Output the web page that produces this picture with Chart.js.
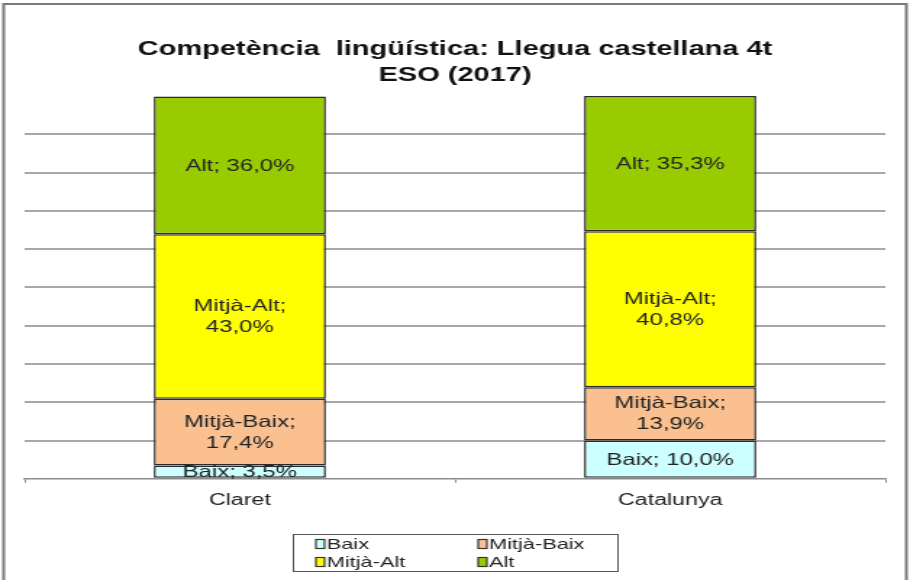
<!DOCTYPE html>
<html>
<head>
<meta charset="utf-8">
<script src="https://cdn.jsdelivr.net/npm/chart.js@4"></script>
<style>
  body { margin: 0; background: #fff; overflow: hidden; }
  /* the original picture is stretched sideways, so draw narrow and widen */
  #wrap { width: 628px; height: 580px; transform: scaleX(1.449); transform-origin: 0 0; }
</style>
</head>
<body>
<div id="wrap"><canvas id="chart" width="628" height="580"></canvas></div>
<script>
const categories = ["Claret", "Catalunya"];
const seriesNames = ["Baix", "Mitjà-Baix", "Mitjà-Alt", "Alt"];
const baix = [3.5, 10.0];
const mitjaBaix = [17.4, 13.9];
const mitjaAlt = [43.0, 40.8];
const alt = [36.0, 35.3];
const colors = ["#ccffff", "#fac090", "#ffff00", "#99cc00"];
const titleLines = ["Competència  lingüística: Llegua castellana 4t", "ESO (2017)"];

const fmt = v => v.toFixed(1).replace(".", ",") + "%";

const frame = {
    id: "frame",
    beforeDraw(chart) {
        const c = chart.ctx;
        c.save();
        c.fillStyle = "#fff";
        c.fillRect(0, 0, chart.width, chart.height);
        c.strokeStyle = "#7a7a7a";
        c.lineWidth = 2;
        c.strokeRect(2.5, 4, 623, 590);
        c.restore();
    }
};

const segLabels = {
    id: "segLabels",
    afterDatasetsDraw(chart) {
        const c = chart.ctx;
        c.save();
        c.font = "16.5px 'Liberation Sans', Arial, sans-serif";
        c.fillStyle = "#222";
        c.textAlign = "center";
        c.textBaseline = "middle";
        chart.data.datasets.forEach((ds, i) => {
            chart.getDatasetMeta(i).data.forEach((bar, j) => {
                const full = ds.label + "; " + fmt(ds.data[j]);
                const y = (bar.y + bar.base) / 2;
                if (c.measureText(full).width > bar.width * 0.8) {
                    c.fillText(ds.label + ";", bar.x, y - 10);
                    c.fillText(fmt(ds.data[j]), bar.x, y + 11);
                } else {
                    c.fillText(full, bar.x, y + 1);
                }
            });
        });
        c.restore();
    }
};

const boxLegend = {
    id: "boxLegend",
    afterDraw(chart) {
        const c = chart.ctx;
        c.save();
        c.strokeStyle = "#555";
        c.lineWidth = 1;
        c.strokeRect(202.5, 534.5, 224, 37);
        c.font = "15px 'Liberation Sans', Arial, sans-serif";
        c.textBaseline = "middle";
        const cols = [218, 330];
        const rows = [544, 562];
        chart.data.datasets.forEach((ds, i) => {
            const x = cols[i % 2];
            const y = rows[Math.floor(i / 2)];
            c.fillStyle = ds.backgroundColor;
            c.fillRect(x, y - 4.5, 6, 9);
            c.strokeStyle = "#333";
            c.lineWidth = 1.2;
            c.strokeRect(x, y - 4.5, 6, 9);
            c.fillStyle = "#222";
            c.fillText(ds.label, x + 7.5, y + 1);
        });
        c.restore();
    }
};

const allData = [baix, mitjaBaix, mitjaAlt, alt];

new Chart(document.getElementById("chart"), {
    type: "bar",
    data: {
        labels: categories,
        datasets: seriesNames.map((name, i) => ({
            label: name,
            data: allData[i],
            backgroundColor: colors[i],
            borderColor: "#2b2b2b",
            borderWidth: 1.5,
            borderSkipped: false,
            categoryPercentage: 1,
            barPercentage: 0.4
        }))
    },
    options: {
        responsive: false,
        animation: false,
        layout: { padding: { left: 17, right: 17, top: 0, bottom: 62 } },
        plugins: {
            legend: { display: false },
            tooltip: { enabled: false },
            title: {
                display: true,
                text: titleLines,
                color: "#111",
                font: { family: "'Liberation Sans', Arial, sans-serif", size: 20, weight: "bold", lineHeight: 1.3 },
                padding: { top: 36, bottom: 8 }
            }
        },
        scales: {
            x: {
                stacked: true,
                border: { color: "#8c8c8c", width: 1.5 },
                grid: { drawOnChartArea: false, drawTicks: true, tickLength: 4, color: "#8c8c8c" },
                ticks: { color: "#222", padding: 8, font: { family: "'Liberation Sans', Arial, sans-serif", size: 16 } }
            },
            y: {
                stacked: true,
                min: 0,
                max: 100,
                border: { display: false },
                ticks: { display: false, stepSize: 10 },
                grid: {
                    drawTicks: false,
                    lineWidth: 2,
                    color: ctx => (ctx.tick.value === 0 || ctx.tick.value === 100) ? "rgba(0,0,0,0)" : "#a8a8a8"
                }
            }
        }
    },
    plugins: [frame, segLabels, boxLegend]
});
</script>
</body>
</html>
